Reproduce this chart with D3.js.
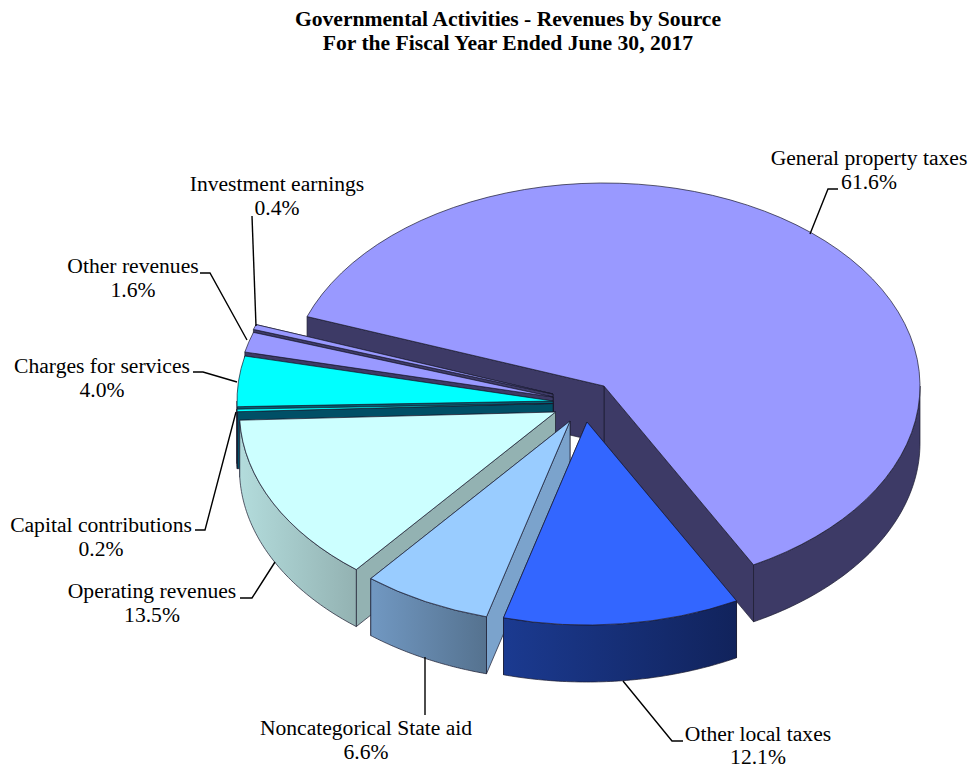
<!DOCTYPE html>
<html>
<head>
<meta charset="utf-8">
<script src="https://d3js.org/d3.v7.min.js"></script>
<style>
  body { margin: 0; background: #fff; }
  text { font-family: "Liberation Serif", serif; fill: #000; }
</style>
</head>
<body>
<svg id="chart" width="969" height="768"></svg>
<script>
// data
var categories = ["General property taxes", "Other local taxes", "Noncategorical State aid", "Operating revenues",
  "Capital contributions", "Charges for services", "Other revenues", "Investment earnings"];
var shares = [61.6, 12.1, 6.6, 13.5, 0.2, 4.0, 1.6, 0.4];

// colours for each slice: top, cut face, wall gradient left / right
var topColors = ["#9999ff", "#3366ff", "#99ccff", "#ccffff", "#00ffff", "#00ffff", "#9999ff", "#9999ff"];
var faceColors = ["#3d3a66", "#14265f", "#7ba3cc", "#93b2b2", "#004f66", "#005f73", "#3d3a66", "#3d3a66"];
var wallLeft = ["#3d3a66", "#1b3a90", "#7198c2", "#b3dcdc", "#004f66", "#005f73", "#3d3a66", "#3d3a66"];
var wallRight = ["#3d3a66", "#11235c", "#55728f", "#93b2b2", "#004f66", "#005f73", "#3d3a66", "#3d3a66"];

// pie geometry
var cx = 604, cy = 386, rx = 316, ry = 203, depth = 57;
var startDeg = 290;
// where the point of each slice sits, relative to the pie centre
var shiftX = [0, -17, -34, -48.5, -51, -51, -51, -51];
var shiftY = [0, 36, 35, 26, 17.5, 15, 11, 8];
// paint order, far slices first
var drawOrder = [0, 7, 6, 5, 4, 3, 2, 1];

// labels and their leader lines
var labelX = [869, 758, 366, 152, 101, 102, 133, 277];
var labelY = [165, 741, 735, 598, 532, 373, 273, 191];
var percentGap = [24, 22.5, 24, 24, 24, 24, 24, 24];
var leaders = [
  [[810, 234], [828, 189], [838, 189]],
  [[623, 681], [672, 741], [683, 741]],
  [[425, 657], [425, 715]],
  [[275, 562], [252, 598], [240, 598]],
  [[236, 412], [205, 530], [195, 530]],
  [[237, 382], [203, 372], [193, 372]],
  [[247, 340], [210, 273], [200, 273]],
  [[256, 326], [252, 216]]
];

var svg = d3.select("#chart");
var defs = svg.append("defs");

svg.append("text").attr("x", 508).attr("y", 26).attr("text-anchor", "middle")
  .attr("font-size", 21.6).attr("font-weight", "bold")
  .text("Governmental Activities - Revenues by Source");
svg.append("text").attr("x", 508).attr("y", 50).attr("text-anchor", "middle")
  .attr("font-size", 21.6).attr("font-weight", "bold")
  .text("For the Fiscal Year Ended June 30, 2017");

var startAngle = startDeg * Math.PI / 180;
var pie = d3.pie().sort(null).value(d => d)
  .startAngle(startAngle).endAngle(startAngle + 2 * Math.PI);
var arcs = pie(shares);
var arc = d3.arc().innerRadius(0).outerRadius(rx);

// outer rim at a given angle, 0 = up, clockwise
function rim(a) { return [rx * Math.sin(a), -ry * Math.cos(a)]; }

var lineGen = d3.line();
var edge = "#1a1a2e";
var frontFrom = 2.5 * Math.PI, frontTo = 3.5 * Math.PI;

drawOrder.forEach(function(i) {
  var d = arcs[i];
  var g = svg.append("g")
    .attr("transform", "translate(" + (cx + shiftX[i]) + "," + (cy + shiftY[i]) + ")");

  // the two cut faces, end one first so it can't paint over the visible one
  [d.endAngle, d.startAngle].forEach(function(a) {
    var p = rim(a);
    g.append("path")
      .attr("d", lineGen([[0, 0], p, [p[0], p[1] + depth], [0, depth]]) + "Z")
      .attr("fill", faceColors[i]).attr("stroke", edge).attr("stroke-width", 0.7);
  });

  // outer wall, only the part that faces the viewer
  var a0 = Math.max(d.startAngle, frontFrom), a1 = Math.min(d.endAngle, frontTo);
  if (a1 > a0) {
    var angles = d3.range(0, 61).map(k => a0 + (a1 - a0) * k / 60);
    var upper = angles.map(rim);
    var lower = upper.map(p => [p[0], p[1] + depth]).reverse();
    var xs = d3.extent(upper, p => p[0]);
    var grad = defs.append("linearGradient").attr("id", "wall" + i)
      .attr("gradientUnits", "userSpaceOnUse")
      .attr("x1", xs[0]).attr("x2", xs[1]).attr("y1", 0).attr("y2", 0);
    grad.append("stop").attr("offset", 0).attr("stop-color", wallLeft[i]);
    grad.append("stop").attr("offset", 1).attr("stop-color", wallRight[i]);
    g.append("path")
      .attr("d", lineGen(upper.concat(lower)) + "Z")
      .attr("fill", "url(#wall" + i + ")").attr("stroke", edge).attr("stroke-width", 0.7);
  }

  // top surface, a flat d3 arc squashed into the ellipse
  g.append("path")
    .attr("transform", "scale(1," + (ry / rx) + ")")
    .attr("d", arc(d))
    .attr("fill", topColors[i]).attr("stroke", edge).attr("stroke-width", 0.7)
    .attr("vector-effect", "non-scaling-stroke");
});

// leader lines and labels
leaders.forEach(function(pts) {
  svg.append("path").attr("d", lineGen(pts)).attr("fill", "none")
    .attr("stroke", "#000").attr("stroke-width", 1.4);
});

categories.forEach(function(name, i) {
  svg.append("text").attr("x", labelX[i]).attr("y", labelY[i]).attr("text-anchor", "middle")
    .attr("font-size", 21.6).text(name);
  svg.append("text").attr("x", labelX[i]).attr("y", labelY[i] + percentGap[i]).attr("text-anchor", "middle")
    .attr("font-size", 21.6).text(shares[i].toFixed(1) + "%");
});
</script>
</body>
</html>
